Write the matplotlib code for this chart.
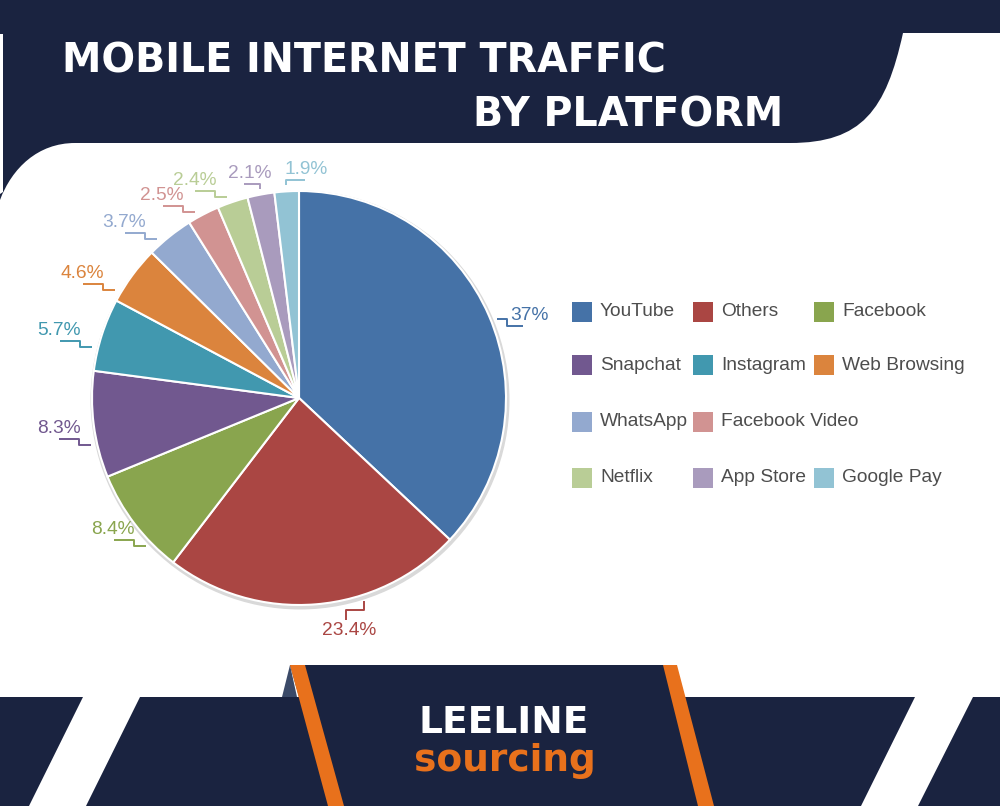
import numpy as np
import matplotlib.pyplot as plt
from matplotlib.patches import Polygon, PathPatch, Rectangle, Circle
from matplotlib.path import Path

# data
platforms = ['YouTube', 'Others', 'Facebook', 'Snapchat', 'Instagram', 'Web Browsing',
             'WhatsApp', 'Facebook Video', 'Netflix', 'App Store', 'Google Pay']
shares = [37, 23.4, 8.4, 8.3, 5.7, 4.6, 3.7, 2.5, 2.4, 2.1, 1.9]
colors = ['#4572A7', '#AA4643', '#89A54E', '#71588F', '#4198AF', '#DB843D',
          '#93A9CF', '#D19392', '#B9CD96', '#A99BBD', '#92C3D4']

# layout
label_nudge = [-1.5, 13, 6.6, 5.5, 4, 6, 3, 1.7, 1, 0, 0]   # degrees, label shift
legend_slots = [(0, 0), (0, 1), (0, 2), (1, 0), (1, 1), (1, 2),
                (2, 0), (2, 1), (3, 0), (3, 1), (3, 2)]
legend_cols = [572, 693, 814]
legend_rows = [312, 365, 422, 478]

NAVY = '#1a2340'
ORANGE = '#e8711c'
W, H = 1000, 806
LABEL_FONT = 'Liberation Sans'

fig = plt.figure(figsize=(10, 8.06), dpi=100)
fig.patch.set_facecolor('white')
ax = fig.add_axes([0, 0, 1, 1])


def fy(y):
    # picture rows count from the top, axes from the bottom
    return H - y


def poly(pts, color, z=1):
    ax.add_patch(Polygon([(x, fy(y)) for x, y in pts], closed=True,
                         facecolor=color, edgecolor='none', zorder=z))


# top banner
verts = [(0, 0), (1000, 0), (1000, 33), (903, 33),
         (886, 110), (862, 143), (790, 143),
         (75, 143), (38, 143), (12, 168), (0, 200), (0, 0)]
codes = [Path.MOVETO, Path.LINETO, Path.LINETO, Path.LINETO,
         Path.CURVE4, Path.CURVE4, Path.CURVE4,
         Path.LINETO, Path.CURVE4, Path.CURVE4, Path.CURVE4, Path.CLOSEPOLY]
ax.add_patch(PathPatch(Path([(x, fy(y)) for x, y in verts], codes),
                       facecolor=NAVY, edgecolor='none', zorder=1))
poly([(0, 34), (3, 34), (3, 192), (0, 194)], 'white', 2)

ax.text(62, fy(57), 'MOBILE INTERNET TRAFFIC', color='white', fontsize=28.5,
        fontweight='bold', family='DejaVu Sans', ha='left', va='center_baseline', zorder=3)
ax.text(783, fy(111), 'BY PLATFORM', color='white', fontsize=28.5,
        fontweight='bold', family='DejaVu Sans', ha='right', va='center_baseline', zorder=3)

# bottom band
poly([(0, 697), (1000, 697), (1000, 806), (0, 806)], NAVY)
poly([(83, 697), (140, 697), (86, 806), (29, 806)], 'white', 2)
poly([(915, 697), (973, 697), (918, 806), (861, 806)], 'white', 2)
poly([(282, 697), (290, 665), (297, 697)], '#3b4a68', 2)
poly([(290, 665), (676, 665), (714, 806), (330, 806)], NAVY, 2)
poly([(290, 665), (305, 665), (344, 806), (328, 806)], ORANGE, 3)
poly([(663, 665), (677, 665), (714, 806), (698, 806)], ORANGE, 3)
ax.text(504, fy(719), 'LEELINE', color='white', fontsize=27, fontweight='bold',
        family='DejaVu Sans', ha='center', va='center_baseline', zorder=4)
ax.text(505, fy(757), 'sourcing', color=ORANGE, fontsize=27, fontweight='bold',
        family='DejaVu Sans', ha='center', va='center_baseline', zorder=4)

# pie
cx, cy, R = 299, fy(398), 207
ax.add_patch(Circle((cx + 1, cy - 2), R + 2.5, facecolor='#d9d9d9',
                    edgecolor='none', zorder=4))
wedges, _ = ax.pie(shares, colors=colors, startangle=90, counterclock=False,
                   center=(cx, cy), radius=R,
                   wedgeprops=dict(edgecolor='white', linewidth=1.5, zorder=5))

for w, v, c, nudge in zip(wedges, shares, colors, label_nudge):
    th = np.deg2rad((w.theta1 + w.theta2) / 2 + nudge)
    ex, ey = cx + (R + 6) * np.cos(th), cy + (R + 6) * np.sin(th)
    s, co = np.sin(th), np.cos(th)
    lab = f'{v:g}%'
    kw = dict(color=c, fontsize=13.8, family=LABEL_FONT, zorder=6)
    if s < -0.9:
        xs = [ex, ex, ex - 18, ex - 18]
        ys = [ey, ey - 9, ey - 9, ey - 19]
        ax.text(ex - 15, ey - 21, lab, ha='center', va='top', **kw)
    elif s > 0.97:
        if co > -0.1:
            xs = [ex, ex, ex + 19]
            tx = ex + 20
        else:
            xs = [ex, ex, ex - 16]
            tx = ex - 10
        ys = [ey, ey + 5, ey + 5]
        ax.text(tx, ey + 7, lab, ha='center', va='bottom', **kw)
    elif co < 0:
        xs = [ex, ex - 12, ex - 12, ex - 32]
        ys = [ey, ey, ey + 6, ey + 6]
        ax.text(ex - 11, ey + 8, lab, ha='right', va='bottom', **kw)
    else:
        xs = [ex, ex + 10, ex + 10, ex + 26]
        ys = [ey, ey, ey - 7, ey - 7]
        ax.text(ex + 14, ey - 5, lab, ha='left', va='bottom', **kw)
    ax.plot(xs, ys, color=c, lw=1.4, zorder=6, solid_capstyle='butt')

# legend
for name, c, (r, k) in zip(platforms, colors, legend_slots):
    x, y = legend_cols[k], fy(legend_rows[r])
    ax.add_patch(Rectangle((x, y - 10), 20, 20, facecolor=c, edgecolor='none', zorder=5))
    ax.text(x + 28, y, name, color='#4d4d4d', fontsize=13.8, family=LABEL_FONT,
            ha='left', va='center', zorder=5)

ax.set_xlim(0, W)
ax.set_ylim(0, H)
ax.set_aspect('auto')
ax.axis('off')

fig.savefig('out.png', dpi=100)
